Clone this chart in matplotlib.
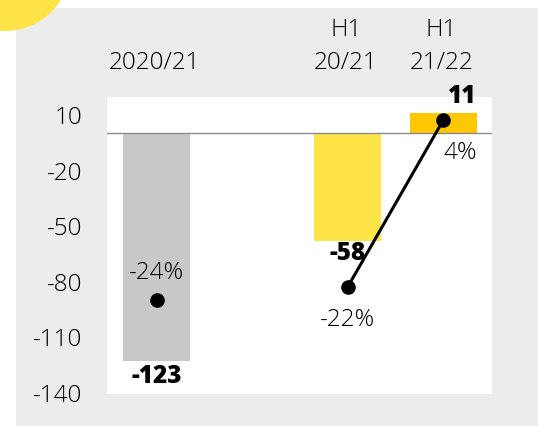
import matplotlib
matplotlib.use('Agg')
import matplotlib.pyplot as plt
from matplotlib.patches import Rectangle, Circle

plt.rcParams['font.family'] = ['Open Sans', 'DejaVu Sans']

categories = ['2020/21', 'H1\n20/21', 'H1\n21/22']
positions = [0, 2, 3]
values = [-123, -58, 11]
bar_colors = ['#c8c8c8', '#ffe448', '#ffc800']
pct = [-24, -22, 4]
yticks = [10, -20, -50, -80, -110, -140]

W, H = 538, 426
FS = 17.5
TXT = dict(fontsize=FS, color='#000000', fontweight='light')

fig = plt.figure(figsize=(W / 100, H / 100), dpi=100)
fig.patch.set_facecolor('white')

# grey panel and yellow blob in the corner
fig.patches.append(Rectangle((16 / W, 0), 1, (H - 8) / H, transform=fig.transFigure,
                             facecolor='#ececec', edgecolor='none', zorder=-2))
fig.patches.append(Circle((5, H + 35), 66, transform=None,
                          facecolor='#ffe448', edgecolor='none', zorder=-1))

ax = fig.add_axes([107 / W, 1 - 394 / H, 385 / W, 297 / H])
ax.set_facecolor('white')
for s in ax.spines.values():
    s.set_visible(False)

ax.bar(positions, values, width=0.7, color=bar_colors, zorder=2)
ax.axhline(0, color='#8c8c8c', lw=1, zorder=3)
ax.set_xlim(-0.52, 3.51)
ax.set_ylim(-140.6, 19.7)
ax.set_xticks([])
ax.set_yticks(yticks)
ax.set_yticklabels([str(t) for t in yticks], fontweight='light')
ax.tick_params(axis='y', length=0, pad=18, labelsize=FS, labelcolor='#000000')

# category labels above the plot
for x, cat in zip(positions, categories):
    lines = cat.split('\n')
    for i, line in enumerate(reversed(lines)):
        ax.text(x - 0.02, 1.114 + i * 0.111, line, transform=ax.get_xaxis_transform(),
                ha='center', va='center', **TXT)

# bar value labels
ax.annotate(str(values[0]), (positions[0], values[0]), xytext=(0, -2),
            textcoords='offset points', ha='center', va='top',
            fontsize=FS, fontweight='heavy', zorder=5)
ax.annotate(str(values[1]), (positions[1], values[1]), xytext=(0, 0),
            textcoords='offset points', ha='center', va='top',
            fontsize=FS, fontweight='heavy', zorder=4)
ax.annotate(str(values[2]), (positions[2] + 0.35, values[2]), xytext=(0, 3),
            textcoords='offset points', ha='right', va='bottom',
            fontsize=FS, fontweight='heavy', zorder=5)

# percentage line on a second axis
ax2 = ax.twinx()
ax2.set_ylim(-38.7, 7.6)
ax2.set_xlim(ax.get_xlim())
ax2.axis('off')
ax2.plot(positions[1:], pct[1:], color='black', lw=2.2, zorder=6)
ax2.plot(positions, pct, 'o', color='black', ms=9.5, zorder=7)

ax2.annotate(f'{pct[0]}%', (positions[0], pct[0]), xytext=(0, 19),
             textcoords='offset points', ha='center', va='center', **TXT)
ax2.annotate(f'{pct[1]}%', (positions[1], pct[1]), xytext=(0, -24),
             textcoords='offset points', ha='center', va='center', **TXT)
ax2.annotate(f'{pct[2]}%', (positions[2] + 0.35, pct[2]), xytext=(0, -24),
             textcoords='offset points', ha='right', va='center', **TXT)

fig.savefig('out.png', dpi=100, facecolor=fig.get_facecolor())
